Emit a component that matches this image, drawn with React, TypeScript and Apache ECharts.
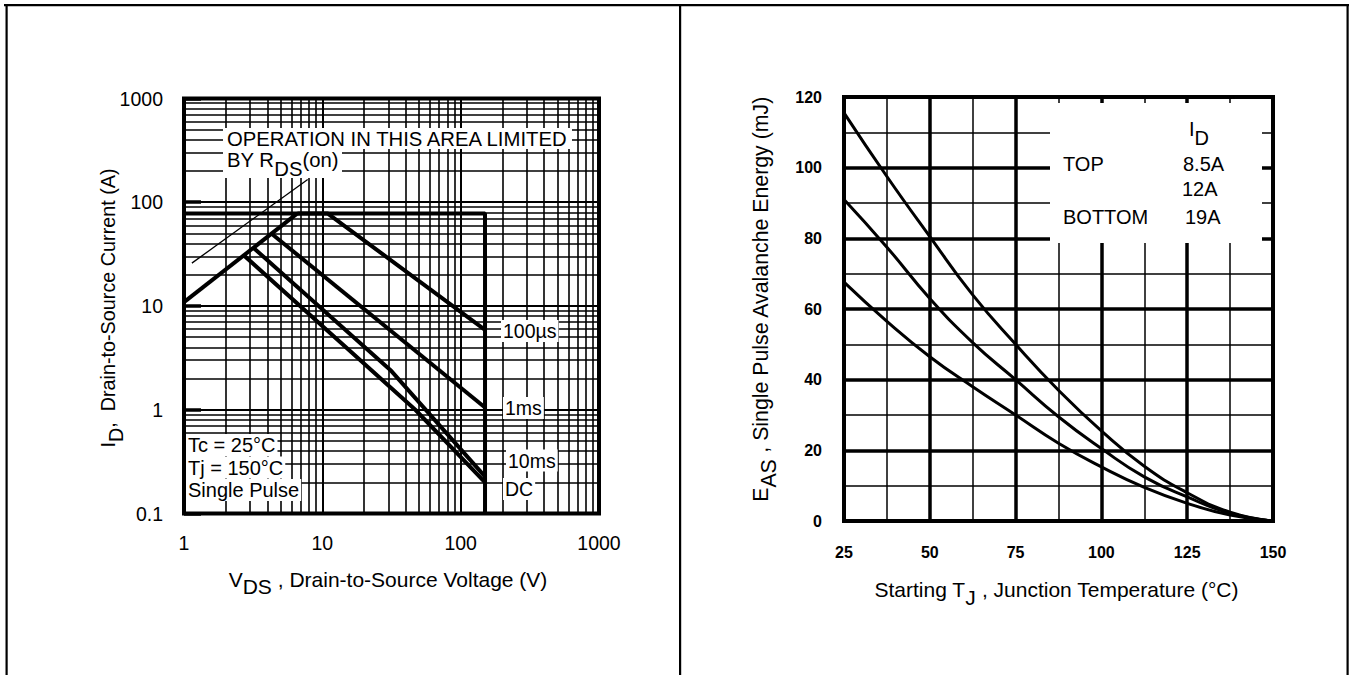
import React, { useEffect, useRef } from "react";
import * as echarts from "echarts";

const FONT = '"Liberation Sans", Arial, Helvetica, sans-serif';

// ---------- Left: Maximum Safe Operating Area ----------
const VDS_DECADES = [1, 10, 100, 1000];
const ID_DECADES = [0.1, 1, 10, 100, 1000];
const RDS_ON_LIMIT: number[][] = [[1, 10.9], [6.6, 78]];
const PACKAGE_LIMIT: number[][] = [[1, 78], [150, 78], [150, 0.1]];
const RDS_POINTER: number[][] = [[1.14, 25.9], [7.84, 166]];
const SOA_100US: number[][] = [[6.6, 78], [10.9, 78], [150, 5.9]];
const SOA_1MS: number[][] = [[4.3, 49.7], [150, 1.05]];
const SOA_10MS: number[][] = [[3.2, 36.1], [31, 2.42], [150, 0.227]];
const SOA_DC: number[][] = [[2.7, 30.9], [47, 1.0], [150, 0.2]];
const SOA_LABELS = ["100µs", "1ms", "10ms", "DC"];
const SOA_CONDITIONS = ["Tc = 25°C", "Tj = 150°C", "Single Pulse"];

// ---------- Right: Maximum Avalanche Energy vs. Temperature ----------
const TJ_C = [25, 37.5, 50, 62.5, 75, 87.5, 100, 112.5, 125, 137.5, 150];
const EAS_TOP_8_5A = [115.5, 97.5, 80.5, 64, 50, 37, 25.5, 15.5, 8, 2.5, 0];
const EAS_12A = [91, 77.5, 63, 50.5, 40, 29.5, 20.5, 12.5, 6.8, 2.2, 0];
const EAS_BOTTOM_19A = [67.6, 56.5, 46.5, 38, 30, 22, 15.3, 9.5, 5, 1.7, 0];
const ID_LEGEND: string[][] = [["TOP", "8.5A"], ["", "12A"], ["BOTTOM", "19A"]];

function subRich(fontSize: number, offset: number) {
  return {
    n: { fontSize, fontFamily: FONT, fill: "#000", lineHeight: 20, verticalAlign: "top" },
    s: { fontSize, fontFamily: FONT, fill: "#000", lineHeight: 2 * (10 + offset), verticalAlign: "middle" },
  };
}

function minorValues(decades: number[]): number[] {
  const out: number[] = [];
  for (let i = 0; i < decades.length - 1; i++) {
    for (let k = 2; k <= 9; k++) out.push(+(decades[i] * k).toPrecision(3));
  }
  return out;
}

export default function App() {
  const ref = useRef<HTMLDivElement>(null);

  useEffect(() => {
    if (!ref.current) return;
    const chart = echarts.init(ref.current, null, { renderer: "svg" });

    const minorX = minorValues(VDS_DECADES);
    const minorY = minorValues(ID_DECADES);

    const curve = (data: number[][], width = 4, xi = 0) => ({
      type: "line",
      xAxisIndex: xi,
      yAxisIndex: xi,
      data,
      symbol: "none",
      silent: true,
      z: 5,
      lineStyle: { color: "#000", width },
    });

    const eas = (vals: number[]) => ({
      type: "line",
      xAxisIndex: 1,
      yAxisIndex: 1,
      data: TJ_C.map((t, i) => [t, vals[i]]),
      symbol: "none",
      smooth: 0.5,
      silent: true,
      z: 5,
      lineStyle: { color: "#000", width: 3 },
    });

    const plainText = (text: string, x: number, y: number, size: number, bg = false, extra: any = {}) => ({
      type: "text",
      x,
      y,
      z: 100,
      silent: true,
      style: {
        text,
        fontSize: size,
        fontFamily: FONT,
        fill: "#000",
        align: "left",
        verticalAlign: "middle",
        ...(bg ? { backgroundColor: "#fff", padding: [0, 2], lineHeight: 22 } : {}),
        ...extra,
      },
    });

    const richText = (text: string, x: number, y: number, size: number, offset: number, align: string, rotation = 0) => ({
      type: "text",
      x,
      y,
      rotation,
      z: 100,
      silent: true,
      style: {
        text,
        rich: subRich(size, offset),
        align,
        verticalAlign: "middle",
      },
    });

    const whiteRect = (x: number, y: number, w: number, h: number) => ({
      type: "rect",
      z: 90,
      silent: true,
      shape: { x, y, width: w, height: h },
      style: { fill: "#fff" },
    });

    const border = (x: number, y: number, w: number, h: number) => ({
      type: "rect",
      z: 100,
      silent: true,
      shape: { x, y, width: w, height: h },
      style: { fill: "#000" },
    });

    const soaLabelPos = [
      [501, 331],
      [503, 408],
      [506, 460.5],
      [503, 489],
    ];
    const condPos = [445, 467.5, 490];
    const legendRows = [163.5, 189, 216.5];
    const legendValX = [1183, 1182, 1185];

    const option: any = {
      animation: false,
      backgroundColor: "#fff",
      textStyle: { fontFamily: FONT },
      grid: [
        { left: 184, top: 98.5, width: 415, height: 415, show: true, borderColor: "#000", borderWidth: 4, backgroundColor: "transparent", outerBoundsMode: "none", containLabel: false },
        { left: 844, top: 97, width: 429, height: 424, show: true, borderColor: "#000", borderWidth: 4, backgroundColor: "transparent", outerBoundsMode: "none", containLabel: false },
      ],
      xAxis: [
        {
          gridIndex: 0,
          type: "log",
          logBase: 10,
          min: 1,
          max: 1000,
          axisLine: { show: false },
          axisTick: { show: false },
          axisLabel: {
            margin: 19,
            fontSize: 19.5,
            color: "#000",
            fontFamily: FONT,
            showMinLabel: true,
            showMaxLabel: true,
            formatter: (v: number) => (v < 1 ? "0.1" : String(Math.round(v))),
          },
          splitLine: { show: true, lineStyle: { color: "#000", width: 2 } },
        },
        {
          gridIndex: 1,
          type: "value",
          min: 25,
          max: 150,
          interval: 25,
          axisLine: { show: false },
          axisTick: { show: false },
          axisLabel: { margin: 23, fontSize: 16, fontWeight: "bold", color: "#000", fontFamily: FONT, showMinLabel: true, showMaxLabel: true },
          splitLine: { show: true, lineStyle: { color: "#000", width: 3.5 } },
          minorTick: { show: false, splitNumber: 2 },
          minorSplitLine: { show: true, lineStyle: { color: "#000", width: 1.5 } },
        },
      ],
      yAxis: [
        {
          gridIndex: 0,
          type: "log",
          logBase: 10,
          min: 0.1,
          max: 1000,
          axisLine: { show: false },
          axisTick: { show: true, inside: true, length: 17, lineStyle: { color: "#000", width: 3.5 } },
          axisLabel: {
            margin: 21,
            fontSize: 19.5,
            color: "#000",
            fontFamily: FONT,
            showMinLabel: true,
            showMaxLabel: true,
            formatter: (v: number) => (v < 1 ? "0.1" : String(Math.round(v))),
          },
          splitLine: { show: true, lineStyle: { color: "#000", width: 2 } },
        },
        {
          gridIndex: 1,
          type: "value",
          min: 0,
          max: 120,
          interval: 20,
          axisLine: { show: false },
          axisTick: { show: false },
          axisLabel: { margin: 22, fontSize: 16, fontWeight: "bold", color: "#000", fontFamily: FONT, showMinLabel: true, showMaxLabel: true },
          splitLine: { show: true, lineStyle: { color: "#000", width: 3.5 } },
          minorTick: { show: false, splitNumber: 2 },
          minorSplitLine: { show: true, lineStyle: { color: "#000", width: 1.5 } },
        },
      ],
      series: [
        {
          type: "line",
          xAxisIndex: 0,
          yAxisIndex: 0,
          data: [[1, 0.1]],
          symbol: "none",
          silent: true,
          lineStyle: { width: 0 },
          markLine: {
            silent: true,
            symbol: ["none", "none"],
            label: { show: false },
            emphasis: { disabled: true },
            lineStyle: { color: "#000", width: 1.6, type: "solid" },
            data: [...minorX.map((v) => ({ xAxis: v })), ...minorY.map((v) => ({ yAxis: v }))],
          },
        },
        curve(PACKAGE_LIMIT, 4),
        curve(RDS_ON_LIMIT, 4),
        curve(RDS_POINTER, 1.3),
        curve(SOA_100US, 4),
        curve(SOA_1MS, 4),
        curve(SOA_10MS, 4),
        curve(SOA_DC, 4),
        eas(EAS_TOP_8_5A),
        eas(EAS_12A),
        eas(EAS_BOTTOM_19A),
      ],
      graphic: {
        elements: [
          // page frame
          border(4, 4, 1345, 2.2),
          border(5.5, 4, 2.2, 671),
          border(679, 4, 2.2, 671),
          border(1346.5, 4, 2.2, 671),

          // left annotations
          whiteRect(223, 128, 349, 21),
          whiteRect(223, 149, 119, 29),
          plainText("OPERATION IN THIS AREA LIMITED", 227, 139, 20.3),
          richText("{n|BY R}{s|DS}{n|(on)}", 227, 168.5, 20.3, 9, "left"),
          ...SOA_CONDITIONS.map((t, i) => plainText(t, 186, condPos[i], 20, true)),
          ...SOA_LABELS.map((t, i) => plainText(t, soaLabelPos[i][0], soaLabelPos[i][1], 19.5, true)),

          // left axis titles
          richText("{n|V}{s|DS}{n| , Drain-to-Source Voltage (V)}", 388, 586, 21, 7, "center"),
          richText("{n|I}{s|D}{n|,  Drain-to-Source Current (A)}", 116, 308, 19.8, 8, "center", Math.PI / 2),

          // right legend box
          whiteRect(1050, 103, 212, 140),
          richText("{n|I}{s|D}", 1189, 137.5, 20, 8.5, "left"),
          ...ID_LEGEND.map((r, i) => plainText(r[0], 1063, legendRows[i], 20)),
          ...ID_LEGEND.map((r, i) => plainText(r[1], legendValX[i], legendRows[i], 20)),

          // right axis titles
          richText("{n|Starting T}{s|J}{n| , Junction Temperature (°C)}", 1056.5, 597, 21, 8, "center"),
          richText("{n|E}{s|AS}{n| , Single Pulse Avalanche Energy (mJ)}", 768.5, 299, 21.3, 8, "center", Math.PI / 2),
        ],
      },
    };

    chart.setOption(option);
    return () => chart.dispose();
  }, []);

  return (
    <div
      ref={ref}
      style={{ position: "absolute", left: 0, top: 0, width: 1354, height: 675, background: "#fff" }}
    />
  );
}
